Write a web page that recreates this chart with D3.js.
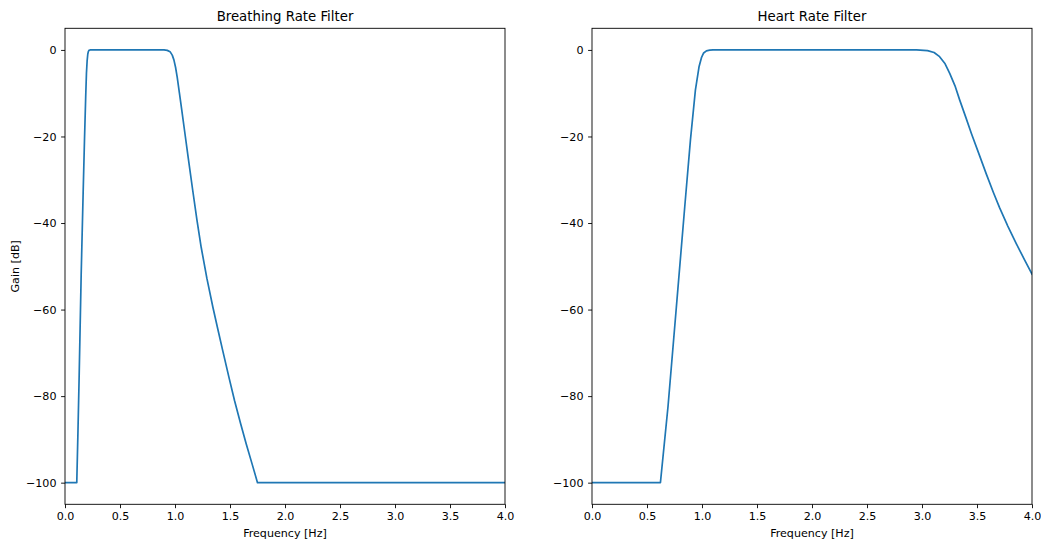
<!DOCTYPE html>
<html>
<head>
<meta charset="utf-8">
<script src="https://cdn.jsdelivr.net/npm/d3@7"></script>
<style>
  html, body { margin: 0; padding: 0; background: #ffffff; }
  svg { display: block; font-family: "DejaVu Sans", sans-serif; }
</style>
</head>
<body>
<svg id="chart" width="1041" height="540"></svg>
<script>
// Frequency response of the breathing-rate band-pass filter (Hz, dB)
const breathFreq = [0, 0.107, 0.118, 0.129, 0.147, 0.165, 0.177, 0.188, 0.195, 0.201, 0.207, 0.212, 0.218, 0.228,
  0.90, 0.93, 0.955, 0.975, 0.99, 1.005, 1.02, 1.04, 1.06, 1.086, 1.12, 1.162, 1.20, 1.238, 1.29, 1.344, 1.39, 1.435,
  1.49, 1.541, 1.595, 1.647, 1.70, 1.75, 4.0];
const breathGain = [-100, -100, -88, -75, -52, -33, -21, -11, -5.4, -2.6, -1.0, -0.4, -0.1, 0,
  0, -0.1, -0.4, -1.2, -2.3, -4.0, -6.3, -9.9, -13.6, -18.5, -24.9, -32.6, -39.4, -45.6, -52.8, -59.4, -64.6, -69.6,
  -75.6, -81.0, -86.2, -91.0, -95.6, -100, -100];

// Frequency response of the heart-rate band-pass filter (Hz, dB)
const heartFreq = [0, 0.622, 0.691, 0.767, 0.843, 0.895, 0.94, 0.973, 0.995, 1.015, 1.04, 1.07, 1.1,
  2.95, 3.05, 3.11, 3.16, 3.21, 3.252, 3.30, 3.343, 3.40, 3.449, 3.52, 3.585, 3.65, 3.706, 3.78, 3.858, 3.93, 4.0];
const heartGain = [-100, -100, -82.4, -59.4, -36.3, -20.8, -9.3, -3.9, -1.8, -0.7, -0.2, -0.03, 0,
  0, -0.15, -0.6, -1.55, -3.2, -5.4, -8.3, -11.6, -15.7, -19.3, -24.2, -28.7, -33.0, -36.5, -40.7, -44.8, -48.4, -51.8];

const xTicks = [0, 0.5, 1.0, 1.5, 2.0, 2.5, 3.0, 3.5, 4.0];
const yTicks = [0, -20, -40, -60, -80, -100];

const panels = [
  { title: "Breathing Rate Filter", freq: breathFreq, gain: breathGain, left: 65, yLabel: "Gain [dB]" },
  { title: "Heart Rate Filter", freq: heartFreq, gain: heartGain, left: 592, yLabel: null }
];

const svg = d3.select("#chart");
const plotTop = 28.3, plotBottom = 504.3, plotWidth = 440;
const tickLen = 3.9, tickFont = 11.1;
const fmtY = d => (d < 0 ? "\u2212" + Math.abs(d) : String(d));

panels.forEach((p, i) => {
  const x = d3.scaleLinear().domain([0, 4]).range([p.left, p.left + plotWidth]);
  const y = d3.scaleLinear().domain([5, -105]).range([plotTop, plotBottom]);

  const g = svg.append("g");

  const clipId = "clip" + i;
  svg.append("clipPath").attr("id", clipId)
    .append("rect").attr("x", p.left).attr("y", plotTop)
    .attr("width", plotWidth).attr("height", plotBottom - plotTop);

  const pts = p.freq.map((f, k) => [f, p.gain[k]]);
  const line = d3.line().x(d => x(d[0])).y(d => y(d[1])).curve(d3.curveLinear);
  g.append("path")
    .attr("clip-path", `url(#${clipId})`)
    .attr("d", line(pts))
    .attr("fill", "none")
    .attr("stroke", "#1f77b4")
    .attr("stroke-width", 1.7)
    .attr("stroke-linejoin", "round")
    .attr("stroke-linecap", "square");

  // Axes
  const xAxis = d3.axisBottom(x).tickValues(xTicks).tickFormat(d3.format(".1f"))
    .tickSize(tickLen).tickPadding(3.9);
  const yAxis = d3.axisLeft(y).tickValues(yTicks).tickFormat(fmtY)
    .tickSize(tickLen).tickPadding(4.6);

  const gx = g.append("g").attr("transform", `translate(0,${plotBottom})`).call(xAxis);
  const gy = g.append("g").attr("transform", `translate(${p.left},0)`).call(yAxis);
  [gx, gy].forEach(a => {
    a.select(".domain").remove();
    a.selectAll(".tick line").attr("stroke", "#000").attr("stroke-width", 0.9);
    a.selectAll(".tick text").attr("fill", "#000").style("font-size", tickFont + "px")
      .style("font-family", "'DejaVu Sans', sans-serif");
  });

  // Frame
  g.append("rect")
    .attr("x", p.left).attr("y", plotTop)
    .attr("width", plotWidth).attr("height", plotBottom - plotTop)
    .attr("fill", "none").attr("stroke", "#000").attr("stroke-width", 0.9);

  // Title
  g.append("text")
    .attr("x", p.left + plotWidth / 2).attr("y", 21.3)
    .attr("text-anchor", "middle")
    .style("font-size", "13.3px")
    .attr("fill", "#000")
    .text(p.title);

  // X label
  g.append("text")
    .attr("x", p.left + plotWidth / 2).attr("y", 536.5)
    .attr("text-anchor", "middle")
    .style("font-size", tickFont + "px")
    .attr("fill", "#000")
    .text("Frequency [Hz]");

  if (p.yLabel) {
    g.append("text")
      .attr("transform", `translate(19,${(plotTop + plotBottom) / 2}) rotate(-90)`)
      .attr("text-anchor", "middle")
      .style("font-size", tickFont + "px")
      .attr("fill", "#000")
      .text(p.yLabel);
  }
});
</script>
</body>
</html>
